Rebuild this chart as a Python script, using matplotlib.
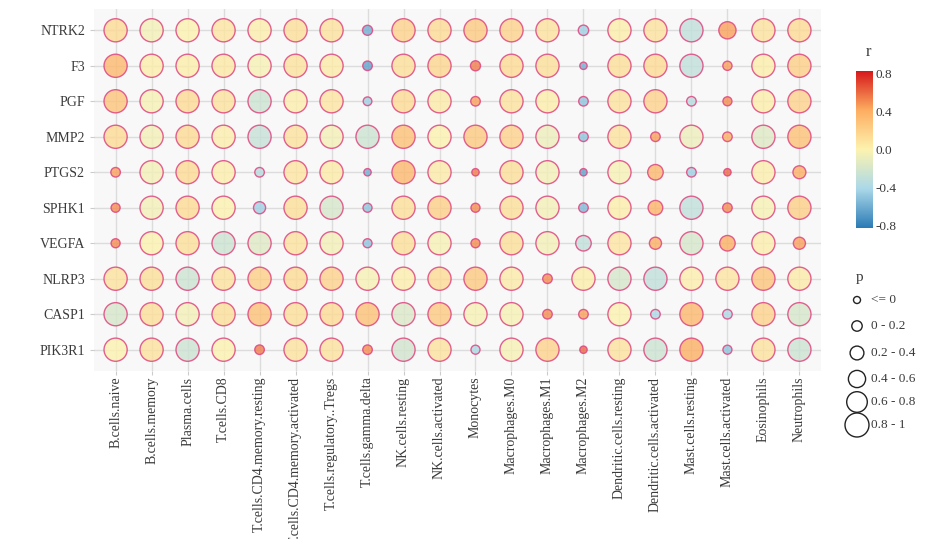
import numpy as np
import matplotlib.pyplot as plt
from matplotlib.colors import LinearSegmentedColormap, Normalize

plt.rcParams['font.family'] = ['Liberation Serif', 'DejaVu Serif']

genes = ["NTRK2", "F3", "PGF", "MMP2", "PTGS2", "SPHK1", "VEGFA", "NLRP3", "CASP1", "PIK3R1"]
cells = ["B.cells.naive", "B.cells.memory", "Plasma.cells", "T.cells.CD8",
         "T.cells.CD4.memory.resting", "T.cells.CD4.memory.activated",
         "T.cells.regulatory..Tregs", "T.cells.gamma.delta", "NK.cells.resting",
         "NK.cells.activated", "Monocytes", "Macrophages.M0", "Macrophages.M1",
         "Macrophages.M2", "Dendritic.cells.resting", "Dendritic.cells.activated",
         "Mast.cells.resting", "Mast.cells.activated", "Eosinophils", "Neutrophils"]

# correlation r, one list per gene (same order as cells)
r_NTRK2 = [0.15, -0.05, 0.0, 0.08, 0.02, 0.12, 0.1, -0.6, 0.2, 0.15, 0.25, 0.2, 0.1, -0.45, 0.03, 0.1, -0.3, 0.45, 0.1, 0.15]
r_F3 = [0.35, 0.03, 0.03, 0.07, -0.03, 0.1, 0.05, -0.65, 0.12, 0.18, 0.55, 0.15, 0.12, -0.6, 0.12, 0.15, -0.3, 0.45, 0.03, 0.22]
r_PGF = [0.28, -0.03, 0.15, 0.1, -0.25, 0.02, 0.08, -0.45, 0.15, 0.05, 0.45, 0.1, 0.03, -0.5, 0.1, 0.2, -0.35, 0.5, 0.03, 0.2]
r_MMP2 = [0.15, -0.05, 0.15, 0.02, -0.28, 0.1, -0.05, -0.25, 0.3, 0.0, 0.25, 0.2, -0.08, -0.5, 0.1, 0.45, -0.08, 0.4, -0.15, 0.3]
r_PTGS2 = [0.45, -0.05, 0.15, 0.02, -0.35, 0.08, 0.05, -0.6, 0.35, 0.05, 0.55, 0.12, -0.05, -0.65, -0.03, 0.35, -0.45, 0.6, 0.02, 0.4]
r_SPHK1 = [0.5, -0.05, 0.15, 0.0, -0.45, 0.12, -0.2, -0.5, 0.12, 0.22, 0.5, 0.12, -0.05, -0.55, 0.03, 0.38, -0.3, 0.5, -0.03, 0.22]
r_VEGFA = [0.5, 0.0, 0.12, -0.25, -0.15, 0.1, -0.05, -0.5, 0.12, -0.03, 0.5, 0.12, -0.05, -0.3, 0.08, 0.4, -0.2, 0.4, 0.02, 0.45]
r_NLRP3 = [0.1, 0.12, -0.25, 0.1, 0.22, 0.15, 0.2, -0.03, 0.02, 0.15, 0.25, 0.05, 0.5, 0.03, -0.2, -0.3, 0.02, 0.08, 0.28, 0.05]
r_CASP1 = [-0.2, 0.12, -0.05, 0.12, 0.3, 0.12, 0.15, 0.3, -0.18, 0.25, -0.03, -0.03, 0.5, 0.45, 0.0, -0.4, 0.35, -0.4, 0.2, -0.2]
r_PIK3R1 = [0.0, 0.1, -0.25, 0.0, 0.55, 0.1, 0.1, 0.5, -0.22, 0.1, -0.4, -0.03, 0.2, 0.6, 0.1, -0.25, 0.4, -0.5, 0.1, -0.25]

# p values
p_NTRK2 = [0.95, 0.95, 0.95, 0.95, 0.95, 0.95, 0.95, 0.18, 0.95, 0.95, 0.95, 0.95, 0.95, 0.2, 0.95, 0.95, 0.95, 0.6, 0.95, 0.95]
p_F3 = [0.95, 0.95, 0.95, 0.95, 0.95, 0.95, 0.95, 0.15, 0.95, 0.95, 0.18, 0.95, 0.95, 0.02, 0.95, 0.95, 0.95, 0.13, 0.95, 0.95]
p_PGF = [0.95, 0.95, 0.95, 0.95, 0.95, 0.95, 0.95, 0.1, 0.95, 0.95, 0.15, 0.95, 0.95, 0.15, 0.95, 0.95, 0.15, 0.12, 0.95, 0.95]
p_MMP2 = [0.95, 0.95, 0.95, 0.95, 0.95, 0.95, 0.95, 0.95, 0.95, 0.95, 0.95, 0.95, 0.95, 0.15, 0.95, 0.15, 0.95, 0.15, 0.95, 0.95]
p_PTGS2 = [0.15, 0.95, 0.95, 0.95, 0.15, 0.95, 0.95, 0.02, 0.95, 0.95, 0.02, 0.95, 0.95, 0.02, 0.95, 0.5, 0.15, 0.02, 0.95, 0.35]
p_SPHK1 = [0.12, 0.95, 0.95, 0.95, 0.3, 0.95, 0.95, 0.12, 0.95, 0.95, 0.12, 0.95, 0.95, 0.15, 0.95, 0.45, 0.95, 0.15, 0.95, 0.95]
p_VEGFA = [0.12, 0.95, 0.95, 0.95, 0.95, 0.95, 0.95, 0.12, 0.95, 0.95, 0.12, 0.95, 0.95, 0.5, 0.95, 0.3, 0.95, 0.5, 0.95, 0.3]
p_NLRP3 = [0.95, 0.95, 0.95, 0.95, 0.95, 0.95, 0.95, 0.95, 0.95, 0.95, 0.95, 0.95, 0.15, 0.95, 0.95, 0.95, 0.95, 0.95, 0.95, 0.95]
p_CASP1 = [0.95, 0.95, 0.95, 0.95, 0.95, 0.95, 0.95, 0.95, 0.95, 0.95, 0.95, 0.95, 0.15, 0.15, 0.95, 0.15, 0.95, 0.15, 0.95, 0.95]
p_PIK3R1 = [0.95, 0.95, 0.95, 0.95, 0.15, 0.95, 0.95, 0.15, 0.95, 0.95, 0.12, 0.95, 0.95, 0.02, 0.95, 0.95, 0.95, 0.12, 0.95, 0.95]

r_rows = [r_NTRK2, r_F3, r_PGF, r_MMP2, r_PTGS2, r_SPHK1, r_VEGFA, r_NLRP3, r_CASP1, r_PIK3R1]
p_rows = [p_NTRK2, p_F3, p_PGF, p_MMP2, p_PTGS2, p_SPHK1, p_VEGFA, p_NLRP3, p_CASP1, p_PIK3R1]

p_bins = ["<= 0", "0 - 0.2", "0.2 - 0.4", "0.4 - 0.6", "0.6 - 0.8", "0.8 - 1"]
p_bin_vals = [0.0, 0.2, 0.4, 0.6, 0.8, 1.0]


def bubble_size(p):
    # diameter in pixels -> marker area in points^2
    d = (7 + 17 * np.asarray(p)) * 0.72
    return d ** 2


cmap = LinearSegmentedColormap.from_list(
    "r", ["#2c7bb6", "#abd9e9", "#fdf3b0", "#fdae61", "#d7191c"])
norm = Normalize(-0.83, 0.83)

fig = plt.figure(figsize=(9.46, 5.39), dpi=100)
fig.patch.set_facecolor("white")
ax = fig.add_axes([94 / 946, 1 - 371 / 539, (821 - 94) / 946, (371 - 9) / 539])
ax.set_facecolor("#f8f8f8")

r = np.array(r_rows)
p = np.array(p_rows)
yy, xx = np.meshgrid(np.arange(len(genes)), np.arange(len(cells)), indexing="ij")
fc = cmap(norm(r.ravel()))
fc[:, 3] = 0.8
ax.scatter(xx.ravel(), yy.ravel(), s=bubble_size(p.ravel()), c=fc,
           edgecolors=(0.87, 0.27, 0.50, 0.85), linewidths=1.0, zorder=3)

ax.set_xlim(-0.6, len(cells) - 0.4)
ax.set_ylim(len(genes) - 0.4, -0.6)
ax.set_xticks(range(len(cells)))
ax.set_xticklabels(cells, rotation=90, fontsize=10, color="#3a3a3a")
ax.set_yticks(range(len(genes)))
ax.set_yticklabels(genes, fontsize=10, color="#3a3a3a")
ax.tick_params(length=3, color="#cccccc", width=0.8)
ax.tick_params(axis="x", pad=1.0)
ax.grid(True, color="#dcdcdc", linewidth=1.0, zorder=0)
ax.set_axisbelow(True)
for s in ax.spines.values():
    s.set_visible(False)

# colour bar for r
cax = fig.add_axes([856 / 946, 1 - 228 / 539, 17 / 946, (228 - 71) / 539])
grad = np.linspace(-0.83, 0.83, 256).reshape(-1, 1)
cax.imshow(grad, aspect="auto", cmap=cmap, norm=norm, origin="lower",
           extent=[0, 1, -0.83, 0.83])
cax.set_xticks([])
cax.yaxis.tick_right()
cax.set_yticks([0.8, 0.4, 0.0, -0.4, -0.8])
cax.set_yticklabels(["0.8", "0.4", "0.0", "-0.4", "-0.8"], fontsize=9.5, color="#3a3a3a")
cax.tick_params(axis="y", length=0, pad=2)
for s in cax.spines.values():
    s.set_visible(False)
fig.text(868 / 946, 1 - 52 / 539, "r", fontsize=12, color="#3a3a3a", ha="center", va="center")

# size legend for p
lax = fig.add_axes([840 / 946, 1 - 440 / 539, 100 / 946, (440 - 265) / 539])
lax.set_xlim(840, 940)
lax.set_ylim(440, 265)
lax.axis("off")
leg_y = [300, 326, 353, 379, 402, 425]
lax.scatter([857] * len(p_bins), leg_y, s=bubble_size(p_bin_vals),
            facecolors="none", edgecolors="#222222", linewidths=1.0)
for yv, lab in zip(leg_y, p_bins):
    lax.text(871, yv, lab, fontsize=9.5, color="#3a3a3a", va="center", ha="left")
lax.text(860, 278, "p", fontsize=11, color="#3a3a3a", ha="center", va="center")

fig.savefig("out.png", dpi=100)
